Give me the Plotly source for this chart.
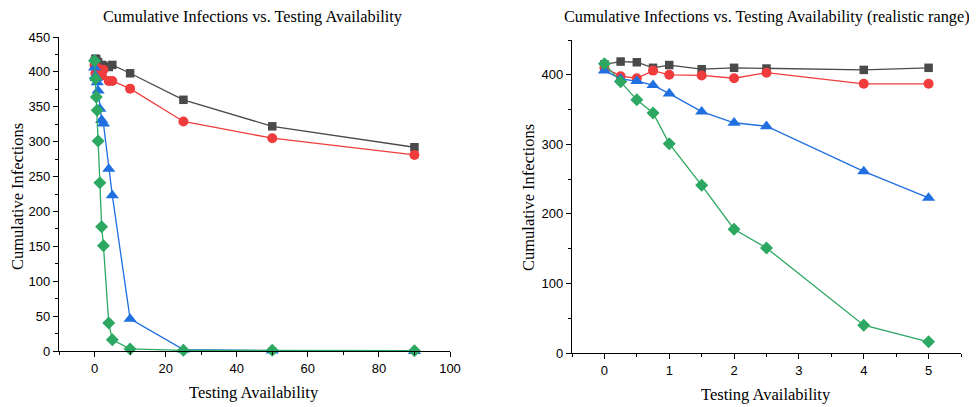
import plotly.graph_objects as go

# ---- data ----
x_full = [0, 0.25, 0.5, 0.75, 1, 1.5, 2, 2.5, 4, 5, 10, 25, 50, 90]
black_full = [415, 419, 418, 410, 414, 408, 410, 409, 407, 410, 398, 360, 322, 292]
red_full = [410, 398, 395, 406, 400, 399, 395, 403, 387, 387, 376, 329, 305, 281]
blue_full = [406, 394, 391, 385, 373, 347, 331, 326, 261, 223, 46, 2, 0.5, 0]
green_full = [416, 390, 364, 345, 301, 241, 178, 151, 40, 16, 3, 1, 1, 0.5]

x_real = x_full[:10]
black_real = black_full[:10]
red_real = red_full[:10]
blue_real = blue_full[:10]
green_real = green_full[:10]

title_left = "Cumulative Infections vs. Testing Availability"
title_right = "Cumulative Infections vs. Testing Availability (realistic range)"
xlabel = "Testing Availability"
ylabel = "Cumulative Infections"

colors = ["#4a4a4a", "#f03c3c", "#1f6fe0", "#2ca862"]
symbols = ["square", "circle", "triangle-up", "diamond"]
sizes = [8.5, 10, 11.5, 10]

# page body offsets the figure by 8px; shrink the figure to fit the window
OFF = 8
W, H = 977 - OFF, 407 - OFF
serif = "Liberation Serif, Times New Roman, serif"
sans = "Liberation Sans, Arial, sans-serif"

fig = go.Figure()

def add_series(xs, ys_list, xa, ya):
    for ys, c, s, sz in zip(ys_list, colors, symbols, sizes):
        fig.add_trace(go.Scatter(
            x=xs, y=ys, mode="lines+markers", xaxis=xa, yaxis=ya,
            line=dict(color=c, width=1.3),
            marker=dict(color=c, symbol=s, size=sz),
            cliponaxis=False, showlegend=False, hoverinfo="x+y"))

add_series(x_full, [black_full, red_full, blue_full, green_full], "x", "y")
add_series(x_real, [black_real, red_real, blue_real, green_real], "x2", "y2")

# pixel boxes in screenshot coordinates
L = dict(x0=59, x1=450, y0=37, y1=351)
R = dict(x0=572, x1=961, y0=40, y1=353)

def px_x(p):
    return (p - OFF) / W

def px_y(p):
    return 1 - (p - OFF) / H

def dom_x(b):
    return [px_x(b["x0"]), px_x(b["x1"])]

def dom_y(b):
    return [px_y(b["y1"]), px_y(b["y0"])]

axis_common = dict(
    showline=True, linecolor="black", linewidth=1.2, mirror=False,
    ticks="outside", ticklen=5, tickwidth=1.2, tickcolor="black",
    showgrid=False, zeroline=False, automargin=False,
    tickfont=dict(family=sans, size=13, color="black"),
)

fig.update_layout(
    width=W, height=H, margin=dict(l=0, r=0, t=0, b=0, pad=0, autoexpand=False),
    paper_bgcolor="white", plot_bgcolor="white",
    xaxis=dict(domain=dom_x(L), anchor="y", range=[-10, 100], dtick=20, tick0=0,
               minor=dict(dtick=10, ticks="outside", ticklen=3, tickcolor="black", tickwidth=1), **axis_common),
    yaxis=dict(domain=dom_y(L), anchor="x", range=[0, 450], dtick=50, tick0=0,
               minor=dict(dtick=25, ticks="outside", ticklen=3, tickcolor="black", tickwidth=1), **axis_common),
    xaxis2=dict(domain=dom_x(R), anchor="y2", range=[-0.5, 5.5], dtick=1, tick0=0,
                minor=dict(dtick=0.5, ticks="outside", ticklen=3, tickcolor="black", tickwidth=1), **axis_common),
    yaxis2=dict(domain=dom_y(R), anchor="x2", range=[0, 450], dtick=100, tick0=0,
                minor=dict(dtick=50, ticks="outside", ticklen=3, tickcolor="black", tickwidth=1), **axis_common),
)

ann = []
ann.append(dict(text=title_left, x=px_x(253), y=px_y(17),
                font=dict(family=serif, size=16.3, color="black")))
ann.append(dict(text=title_right, x=px_x(767), y=px_y(17),
                font=dict(family=serif, size=16.3, color="black")))
ann.append(dict(text=xlabel, x=px_x(254), y=px_y(392),
                font=dict(family=serif, size=16.5, color="black")))
ann.append(dict(text=xlabel, x=px_x(766), y=px_y(394),
                font=dict(family=serif, size=16.5, color="black")))
ann.append(dict(text=ylabel, x=px_x(18), y=px_y(197), textangle=-90,
                font=dict(family=serif, size=16.5, color="black")))
ann.append(dict(text=ylabel, x=px_x(528), y=px_y(198), textangle=-90,
                font=dict(family=serif, size=16.5, color="black")))
for a in ann:
    a.update(xref="paper", yref="paper", showarrow=False, xanchor="center", yanchor="middle")
fig.update_layout(annotations=ann)

fig.write_html("out.html")
